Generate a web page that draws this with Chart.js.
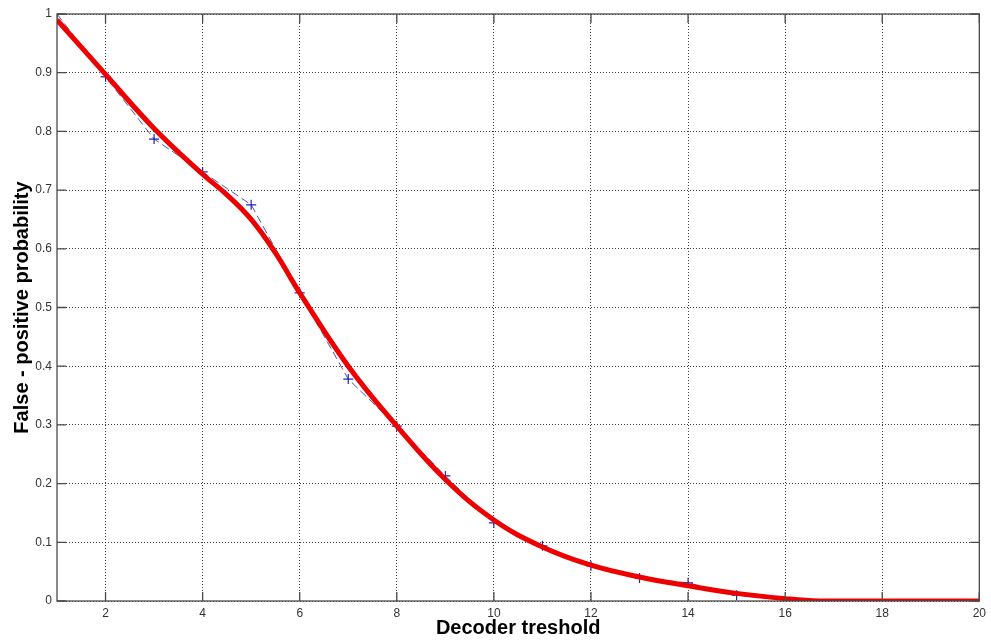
<!DOCTYPE html>
<html>
<head>
<meta charset="utf-8">
<script src="https://cdn.jsdelivr.net/npm/chart.js@4/dist/chart.umd.min.js"></script>
<style>
  html, body { margin: 0; padding: 0; background: #fff; }
  #wrap { width: 991px; height: 640px; }
</style>
</head>
<body>
<div id="wrap"><canvas id="fpChart"></canvas></div>
<script>
// measured false-positive rate per decoder threshold
const thresholds = [1, 2, 3, 4, 5, 6, 7, 8, 9, 10, 11, 12, 13, 14, 15, 16, 17, 18, 19, 20];
const measured = [1.0, 0.893, 0.787, 0.731, 0.675, 0.525, 0.378, 0.298, 0.213, 0.133,
                  0.094, 0.060, 0.039, 0.031, 0.010, 0.002, 0, 0, 0, 0];
// markers hidden under the fit where it runs along zero
const markerSize = [5, 5, 5, 5, 5, 5, 5, 5, 5, 5, 5, 5, 5, 5, 5, 0, 0, 0, 0, 5];

// smoothed fit
const fitX = [1, 2, 3, 4, 4.5, 5, 5.5, 6, 7, 8, 9, 10, 11, 12, 13, 14, 15, 16, 16.7, 18, 20];
const fitY = [0.99, 0.897, 0.805, 0.727, 0.692, 0.650, 0.593, 0.525, 0.40, 0.298, 0.207, 0.138,
              0.092, 0.061, 0.041, 0.026, 0.013, 0.004, 0, 0, 0];

const xTicks = [2, 4, 6, 8, 10, 12, 14, 16, 18, 20];

// box around plot + inward tick marks on all four sides
const frame = {
  id: 'frame',
  afterDatasetsDraw(chart) {
    const { ctx, chartArea: a, scales } = chart;
    ctx.save();
    ctx.strokeStyle = '#4a4a4a';
    ctx.lineWidth = 1.3;
    ctx.strokeRect(a.left, a.top, a.right - a.left, a.bottom - a.top);
    ctx.beginPath();
    scales.x.ticks.forEach(t => {
      const px = scales.x.getPixelForValue(t.value);
      ctx.moveTo(px, a.bottom); ctx.lineTo(px, a.bottom - 9);
      ctx.moveTo(px, a.top); ctx.lineTo(px, a.top + 9);
    });
    scales.y.ticks.forEach(t => {
      const py = scales.y.getPixelForValue(t.value);
      ctx.moveTo(a.left, py); ctx.lineTo(a.left + 9, py);
      ctx.moveTo(a.right, py); ctx.lineTo(a.right - 9, py);
    });
    ctx.stroke();
    ctx.restore();
  }
};

new Chart(document.getElementById('fpChart'), {
  type: 'line',
  data: {
    datasets: [
      {
        label: 'fit',
        data: fitX.map((x, i) => ({ x: x, y: fitY[i] })),
        borderColor: '#ee0000',
        borderWidth: 5,
        pointRadius: 0,
        tension: 0.4
      },
      {
        label: 'measured',
        data: thresholds.map((x, i) => ({ x: x, y: measured[i] })),
        borderColor: '#55559a',
        borderWidth: 1,
        borderDash: [8, 4],
        pointStyle: 'cross',
        pointRadius: markerSize,
        pointBorderColor: '#2222bb',
        pointBorderWidth: 1.2,
        tension: 0
      }
    ]
  },
  options: {
    responsive: true,
    maintainAspectRatio: false,
    animation: false,
    layout: { padding: { left: 0, right: 11, top: 14, bottom: 0 } },
    plugins: { legend: { display: false }, tooltip: { enabled: false } },
    scales: {
      x: {
        type: 'linear',
        min: 1,
        max: 20,
        afterBuildTicks: s => { s.ticks = xTicks.map(v => ({ value: v })); },
        afterFit: s => { s.height = 39; },
        ticks: {
          padding: 5,
          color: '#333',
          font: { family: 'Liberation Sans, Arial', size: 12 },
          maxRotation: 0
        },
        grid: { color: 'rgba(0,0,0,0.75)', drawTicks: false },
        border: { display: false, dash: [1, 2] },
        title: {
          display: true,
          text: 'Decoder treshold',
          color: '#000',
          font: { family: 'Liberation Sans, Arial', size: 20, weight: 'bold' },
          padding: { top: 0, bottom: 0 }
        }
      },
      y: {
        min: 0,
        max: 1,
        afterFit: s => { s.width = 57; },
        ticks: {
          stepSize: 0.1,
          padding: 5,
          color: '#333',
          font: { family: 'Liberation Sans, Arial', size: 12 },
          callback: v => String(+v.toFixed(1))
        },
        grid: { color: 'rgba(0,0,0,0.75)', drawTicks: false },
        border: { display: false, dash: [1, 2] },
        title: {
          display: true,
          text: 'False - positive probability',
          color: '#000',
          font: { family: 'Liberation Sans, Arial', size: 20, weight: 'bold' },
          padding: { top: 10, bottom: 0 }
        }
      }
    }
  },
  plugins: [frame]
});
</script>
</body>
</html>
